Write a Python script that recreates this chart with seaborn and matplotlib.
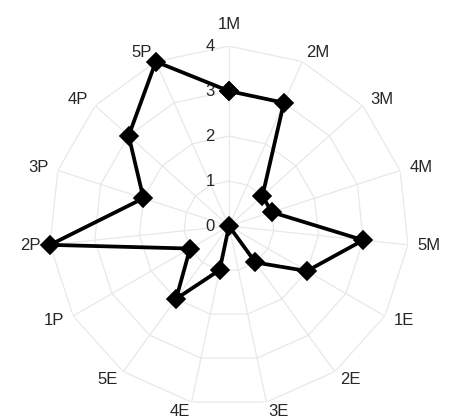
import numpy as np
import pandas as pd
import matplotlib
matplotlib.use("Agg")
import matplotlib.pyplot as plt
import seaborn as sns

# Spider chart of the 15 scored items
categories = ["1M", "2M", "3M", "4M", "5M",
              "1E", "2E", "3E", "4E", "5E",
              "1P", "2P", "3P", "4P", "5P"]
scores = [3, 3, 1, 1, 3, 2, 1, 0, 1, 2, 1, 4, 2, 3, 4]
radial_ticks = [0, 1, 2, 3, 4]

sns.set_theme(style="white")
plt.rcParams["font.family"] = ["Liberation Sans", "DejaVu Sans"]

n = len(categories)
angles = np.arange(n) * 2 * np.pi / n

fig = plt.figure(figsize=(4.49, 4.19), dpi=100)
ax = fig.add_axes([0.1091, 0.031, 0.8018, 0.859], projection="polar")
ax.set_theta_zero_location("N")
ax.set_theta_direction(-1)
ax.set_ylim(0, max(radial_ticks))
ax.grid(False)
ax.spines["polar"].set_visible(False)
ax.set_xticks([])
ax.set_yticks([])
ax.patch.set_alpha(0)

# polygonal web: rings and spokes
grid_kw = dict(color="#e8e8e8", lw=0.9, zorder=1)
ring_theta = np.append(angles, angles[0])
for t in radial_ticks[1:]:
    ax.plot(ring_theta, np.full_like(ring_theta, t, dtype=float), **grid_kw)
for a in angles:
    ax.plot([a, a], [0, max(radial_ticks)], **grid_kw)

# data polygon
df = pd.DataFrame({"theta": np.append(angles, 2 * np.pi),
                   "score": scores + scores[:1]})
sns.lineplot(data=df, x="theta", y="score", sort=False, ax=ax,
             color="black", lw=2.7, marker="D", markersize=9,
             markeredgecolor="black", markeredgewidth=1.2, zorder=3,
             clip_on=False)
ax.set_xlabel("")
ax.set_ylabel("")

text_color = "#262626"
# radial tick labels along the top spoke
for t in radial_ticks:
    ax.annotate(str(t), xy=(0, t), xytext=(-19, 0), textcoords="offset pixels",
                ha="center", va="center", fontsize=12, color=text_color, zorder=2)

# category labels around the web
for a, lab in zip(angles, categories):
    s = np.sin(a)
    if s > 0.05:
        ha = "left"
    elif s < -0.05:
        ha = "right"
    else:
        ha = "center"
    if np.cos(a) > 0.99:
        ax.text(a, 4.32, lab, ha=ha, va="bottom", fontsize=12, color=text_color)
    else:
        ax.text(a, 4.22, lab, ha=ha, va="center", fontsize=12, color=text_color)

fig.savefig("out.png", dpi=100, facecolor="white")
